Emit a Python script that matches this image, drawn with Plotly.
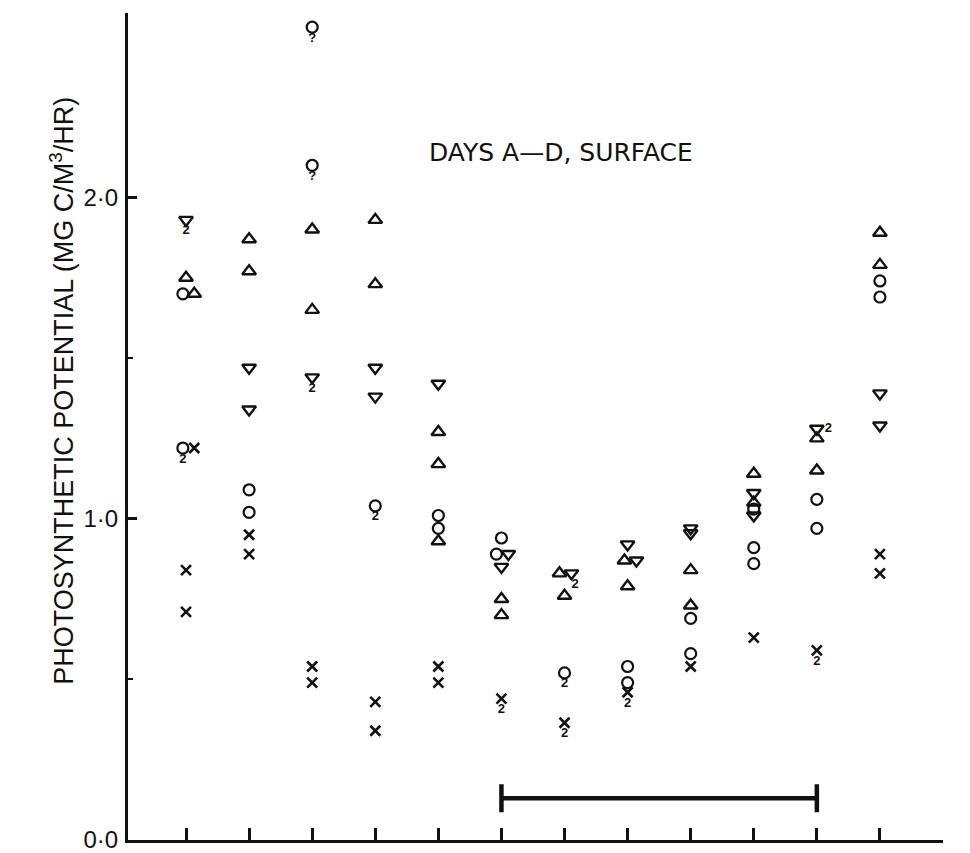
import plotly.graph_objects as go

# Photosynthetic potential (mg C/m3/hr) at each sampling time, surface samples, days A-D.
# Each symbol is one day; x is the sampling-time index (small offsets separate coincident marks).
circle_x = [0.95, 0.95, 2, 2, 3, 3, 4, 5, 5, 6, 5.92, 7, 8, 8, 9, 9, 10, 10, 10, 11, 11, 12, 12]
circle_y = [1.70, 1.22, 1.09, 1.02, 2.53, 2.10, 1.04, 1.01, 0.97, 0.94, 0.89, 0.52, 0.54, 0.49,
            0.69, 0.58, 1.03, 0.91, 0.86, 1.06, 0.97, 1.74, 1.69]

tri_up_x = [1, 1.13, 2, 2, 3, 3, 4, 4, 5, 5, 5, 6, 6, 6.92, 7, 7.95, 8, 9, 9, 10, 10, 11, 11, 12, 12]
tri_up_y = [1.75, 1.70, 1.87, 1.77, 1.90, 1.65, 1.93, 1.73, 1.27, 1.17, 0.93, 0.75, 0.70,
            0.83, 0.76, 0.87, 0.79, 0.84, 0.73, 1.14, 1.05, 1.25, 1.15, 1.89, 1.79]

tri_down_x = [1, 2, 2, 3, 4, 4, 5, 6.11, 6, 7.11, 8, 8.14, 9, 9, 10, 10, 11, 12, 12]
tri_down_y = [1.93, 1.47, 1.34, 1.44, 1.47, 1.38, 1.42, 0.89, 0.85, 0.83, 0.92, 0.87,
              0.97, 0.955, 1.08, 1.01, 1.28, 1.39, 1.29]

cross_x = [1.13, 1, 1, 2, 2, 3, 3, 4, 4, 5, 5, 6, 7, 8, 9, 10, 11, 12, 12]
cross_y = [1.22, 0.84, 0.71, 0.95, 0.89, 0.54, 0.49, 0.43, 0.34, 0.54, 0.49, 0.44, 0.365,
           0.46, 0.54, 0.63, 0.59, 0.89, 0.83]

# Replicate counts written beside some marks
tag_x = [1, 0.95, 3, 3, 3, 4, 6, 7.17, 7, 7, 8, 11.05, 11]
tag_y = [1.93, 1.22, 2.53, 2.10, 1.44, 1.04, 0.44, 0.83, 0.52, 0.365, 0.46, 1.28, 0.59]
tag_text = ["2", "2", "?", "?", "2", "2", "2", "2", "2", "2", "2", "2", "2"]
tag_pos = ["bottom center", "bottom center", "bottom center", "bottom center", "bottom center",
           "bottom center", "bottom center", "bottom center", "bottom center", "bottom center",
           "bottom center", "middle right", "bottom center"]

# Period bracket along the bottom
bar_x = [6, 11]
bar_y = [0.13, 0.13]

x_ticks = list(range(1, 14))
y_ticks = [0, 1, 2]
y_tick_text = ["0·0", "1·0", "2·0"]

INK = "#111111"

fig = go.Figure()

def add_marks(xs, ys, symbol, size, width):
    fig.add_trace(go.Scatter(
        x=xs, y=ys, mode="markers", showlegend=False, hoverinfo="skip",
        marker=dict(symbol=symbol, size=size, color=INK, line=dict(color=INK, width=width)),
    ))

add_marks(circle_x, circle_y, "circle-open", 11, 2.2)
add_marks(tri_up_x, tri_up_y, "triangle-up-open", 12, 2.4)
add_marks(tri_down_x, tri_down_y, "triangle-down-open", 12, 2.4)
add_marks(cross_x, cross_y, "x-thin-open", 10, 2.6)

fig.add_trace(go.Scatter(
    x=tag_x, y=tag_y, mode="markers+text", text=tag_text, textposition=tag_pos,
    showlegend=False, hoverinfo="skip", cliponaxis=False,
    marker=dict(size=6, color="rgba(0,0,0,0)"),
    textfont=dict(family="Liberation Sans", size=13, color=INK, weight="bold"),
))

fig.add_trace(go.Scatter(
    x=bar_x, y=bar_y, mode="lines+markers", showlegend=False, hoverinfo="skip",
    line=dict(color=INK, width=4.5),
    marker=dict(symbol="line-ns-open", size=20, color=INK, line=dict(color=INK, width=4.5)),
))

fig.add_annotation(
    x=6.95, y=2.14, xref="x", yref="y", text="DAYS A—D, SURFACE", showarrow=False,
    font=dict(family="DejaVu Sans", size=25, color=INK),
)

fig.add_annotation(
    x=-0.081, y=1.398, xref="paper", yref="y", textangle=-90, showarrow=False,
    xanchor="center", yanchor="middle",
    text="PHOTOSYNTHETIC POTENTIAL (MG C/M<sup>3</sup>/HR)",
    font=dict(family="Liberation Sans", size=27, color=INK),
)

fig.update_layout(
    width=970, height=853,
    margin=dict(l=128, r=27, t=13, b=13, autoexpand=False),
    paper_bgcolor="white", plot_bgcolor="white",
    xaxis=dict(
        range=[0.08, 13.0], showline=True, linecolor=INK, linewidth=3, automargin=False,
        ticks="inside", tickvals=x_ticks, ticklen=12, tickwidth=2.5, tickcolor=INK,
        showticklabels=False, showgrid=False, zeroline=False,
    ),
    yaxis=dict(
        range=[0, 2.574], showline=True, linecolor=INK, linewidth=3, automargin=False,
        ticks="inside", tickvals=y_ticks, ticktext=y_tick_text, ticklen=9, tickwidth=2.5,
        tickcolor=INK, showgrid=False, zeroline=False, ticklabelstandoff=2,
        ticklabeloverflow="allow",
        tickfont=dict(family="Liberation Sans", size=24, color=INK),
        minor=dict(tickvals=[0.5, 1.5], ticks="inside", ticklen=5, tickwidth=2, tickcolor=INK),
    ),
)

fig.write_html("out.html")
